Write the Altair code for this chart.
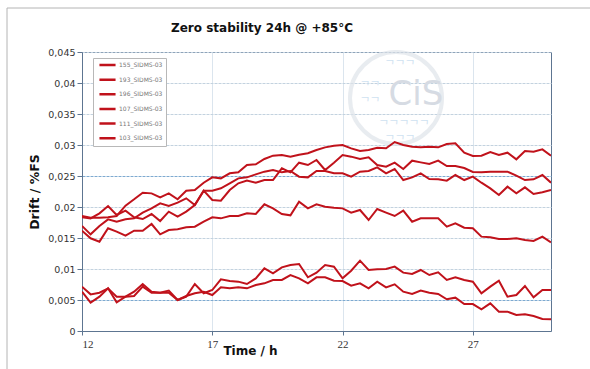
import altair as alt
import pandas as pd

hours = [12.0, 12.33, 12.67, 13.0, 13.33, 13.67, 14.0, 14.33, 14.67, 15.0, 15.33, 15.67,
         16.0, 16.33, 16.67, 17.0, 17.33, 17.67, 18.0, 18.33, 18.67, 19.0, 19.33, 19.67,
         20.0, 20.33, 20.67, 21.0, 21.33, 21.67, 22.0, 22.33, 22.67, 23.0, 23.33, 23.67,
         24.0, 24.33, 24.67, 25.0, 25.33, 25.67, 26.0, 26.33, 26.67, 27.0, 27.33, 27.67,
         28.0, 28.33, 28.67, 29.0, 29.33, 29.67, 30.0]

names = ["155_SIDMS-03", "193_SIDMS-03", "196_SIDMS-03", "107_SIDMS-03", "111_SIDMS-03", "103_SIDMS-03"]

s155 = [0.01855, 0.01828, 0.01828, 0.01833, 0.01855, 0.02022, 0.02124, 0.02231, 0.02220, 0.02156,
        0.02220, 0.02124, 0.02263, 0.02274, 0.02392, 0.02478, 0.02462, 0.02543, 0.02559, 0.02677,
        0.02688, 0.02774, 0.02828, 0.02839, 0.02812, 0.02844, 0.02866, 0.02919, 0.02962, 0.02989,
        0.03000, 0.02946, 0.02903, 0.02919, 0.02957, 0.02946, 0.03048, 0.03000, 0.02973, 0.02962,
        0.02973, 0.02962, 0.03016, 0.03027, 0.02876, 0.02823, 0.02828, 0.02887, 0.02839, 0.02876,
        0.02769, 0.02903, 0.02892, 0.02930, 0.02828]
s193 = [0.01833, 0.01817, 0.01898, 0.02016, 0.01871, 0.01941, 0.01833, 0.01806, 0.01887, 0.01774,
        0.01925, 0.01844, 0.01925, 0.02032, 0.02263, 0.02113, 0.02102, 0.02274, 0.02382, 0.02425,
        0.02392, 0.02435, 0.02435, 0.02624, 0.02559, 0.02715, 0.02677, 0.02758, 0.02597, 0.02715,
        0.02839, 0.02812, 0.02774, 0.02801, 0.02677, 0.02651, 0.02715, 0.02613, 0.02747, 0.02720,
        0.02694, 0.02747, 0.02661, 0.02661, 0.02629, 0.02565, 0.02559, 0.02570, 0.02570, 0.02570,
        0.02505, 0.02435, 0.02446, 0.02516, 0.02392]
s196 = [0.01694, 0.01559, 0.01694, 0.01801, 0.01763, 0.01801, 0.01817, 0.01909, 0.01978, 0.02059,
        0.02016, 0.02070, 0.02140, 0.02032, 0.02263, 0.02263, 0.02301, 0.02382, 0.02462, 0.02478,
        0.02527, 0.02570, 0.02597, 0.02559, 0.02581, 0.02489, 0.02478, 0.02581, 0.02581, 0.02543,
        0.02543, 0.02489, 0.02570, 0.02581, 0.02640, 0.02543, 0.02613, 0.02435, 0.02478, 0.02543,
        0.02452, 0.02446, 0.02425, 0.02516, 0.02435, 0.02489, 0.02392, 0.02301, 0.02194, 0.02328,
        0.02220, 0.02317, 0.02210, 0.02237, 0.02274]
s107 = [0.01618, 0.01495, 0.01441, 0.01656, 0.01602, 0.01538, 0.01618, 0.01618, 0.01726, 0.01559,
        0.01629, 0.01640, 0.01672, 0.01683, 0.01763, 0.01833, 0.01817, 0.01855, 0.01855, 0.01898,
        0.01887, 0.02043, 0.01978, 0.01887, 0.01866, 0.02086, 0.01978, 0.02043, 0.02005, 0.01989,
        0.01978, 0.01909, 0.01952, 0.01790, 0.01968, 0.01909, 0.01855, 0.01941, 0.01763, 0.01817,
        0.01817, 0.01817, 0.01683, 0.01737, 0.01667, 0.01656, 0.01522, 0.01511, 0.01484, 0.01484,
        0.01495, 0.01468, 0.01452, 0.01522, 0.01430]
s111 = [0.00634, 0.00457, 0.00554, 0.00688, 0.00462, 0.00554, 0.00634, 0.00758, 0.00634, 0.00618,
        0.00651, 0.00500, 0.00554, 0.00758, 0.00608, 0.00661, 0.00833, 0.00806, 0.00796, 0.00758,
        0.00849, 0.01011, 0.00930, 0.01027, 0.01065, 0.01081, 0.00866, 0.00941, 0.01065, 0.01038,
        0.00849, 0.00973, 0.01134, 0.00984, 0.00995, 0.01000, 0.01038, 0.00941, 0.00919, 0.00984,
        0.00903, 0.00946, 0.00823, 0.00866, 0.00823, 0.00796, 0.00608, 0.00715, 0.00812, 0.00554,
        0.00581, 0.00726, 0.00543, 0.00661, 0.00661]
s103 = [0.00715, 0.00591, 0.00618, 0.00688, 0.00554, 0.00554, 0.00565, 0.00715, 0.00618, 0.00618,
        0.00618, 0.00500, 0.00565, 0.00608, 0.00634, 0.00581, 0.00704, 0.00688, 0.00704, 0.00688,
        0.00742, 0.00769, 0.00823, 0.00823, 0.00903, 0.00849, 0.00769, 0.00866, 0.00866, 0.00812,
        0.00806, 0.00731, 0.00769, 0.00688, 0.00796, 0.00704, 0.00753, 0.00634, 0.00597, 0.00651,
        0.00618, 0.00597, 0.00511, 0.00538, 0.00435, 0.00435, 0.00349, 0.00446, 0.00312, 0.00312,
        0.00258, 0.00269, 0.00242, 0.00194, 0.00188]

x_ticks = [12, 17, 22, 27]
y_ticks = [0, 0.005, 0.01, 0.015, 0.02, 0.025, 0.03, 0.035, 0.04, 0.045]
title_text = "Zero stability 24h @ +85°C"

series = [s155, s193, s196, s107, s111, s103]
rows = []
for name, vals in zip(names, series):
    for t, v in zip(hours, vals):
        rows.append({"sensor": name, "time": t, "drift": v})
df = pd.DataFrame(rows)

RED = "#c0121b"
FRAME = "#5d7591"

lines = alt.Chart(df).mark_line(strokeWidth=2, clip=True).encode(
    x=alt.X("time:Q",
            scale=alt.Scale(domain=[12, 30], nice=False, zero=False),
            axis=alt.Axis(values=x_ticks, grid=True, gridColor="#dbe5ee", gridWidth=1,
                          labelFont="Liberation Serif", labelFontSize=11, labelColor="#333333",
                          tickSize=4, tickColor=FRAME, domainColor=FRAME, labelPadding=3,
                          title="Time / h", titleX=168, titleY=19, titleBaseline="middle",
                          titleAlign="center", titleFont="DejaVu Sans", titleFontSize=12,
                          titleFontWeight="bold", titleColor="#111111")),
    y=alt.Y("drift:Q",
            scale=alt.Scale(domain=[0, 0.045], nice=False),
            axis=alt.Axis(values=y_ticks,
                          labelExpr="replace(format(datum.value, '.3~f'), '.', ',')",
                          grid=True,
                          gridColor={"condition": {"test": "datum.value == 0.025 || datum.value == 0.005",
                                                   "value": "#7eaad0"},
                                     "value": "#c3d2df"},
                          gridDash=[3, 1], gridWidth=1,
                          labelFont="DejaVu Sans", labelFontSize=9.5, labelColor="#333333",
                          tickSize=5, tickColor=FRAME, domainColor=FRAME, labelPadding=2,
                          title="Drift / %FS", titleFont="DejaVu Sans", titleFontSize=12.5,
                          titleFontWeight="bold", titleColor="#111111", titlePadding=6)),
    color=alt.Color("sensor:N",
                    scale=alt.Scale(domain=names, range=[RED] * 6),
                    sort=names,
                    legend=alt.Legend(title=None, orient="none", legendX=11, legendY=6,
                                      symbolType="stroke", symbolStrokeWidth=2.5, symbolSize=260,
                                      symbolStrokeColor=RED,
                                      labelFont="DejaVu Sans", labelFontSize=6, labelColor="#777777",
                                      labelOffset=2, fillColor="white", strokeColor="#b8b8b8",
                                      padding=3, clipHeight=8, rowPadding=6.65, symbolOffset=2)),
)

dummy = pd.DataFrame({"a": [0]})
ring = alt.Chart(dummy).mark_point(shape="circle", filled=False, size=8464,
                                   stroke="#dfe4ea", strokeWidth=4).encode(
    x=alt.value(314), y=alt.value(46))
logo = alt.Chart(dummy).mark_text(text="CiS", font="DejaVu Sans", fontSize=34,
                                  color="#d6dbe3", align="center", baseline="middle").encode(
    x=alt.value(334), y=alt.value(43))
glyph_rows = pd.DataFrame({"g": ["ᄀᄀᄀ", "ᄀᄀ", "ᄀᄀ", "ᄀᄀᄀᄀᄀ", "ᄀᄀᄀ"],
                           "px": [318, 288, 288, 322, 318],
                           "py": [14, 35, 51, 74, 89]})
glyphs = alt.Chart(glyph_rows).mark_text(font="Noto Sans CJK KR", fontSize=11,
                                         color="#cfe2f1", align="center", baseline="middle").encode(
    text="g:N",
    x=alt.X("px:Q", scale=None),
    y=alt.Y("py:Q", scale=None))

frame_v = alt.Chart(dummy).mark_rule(color="#b4b4b4", strokeWidth=1).encode(
    x=alt.value(-75), y=alt.value(-44), y2=alt.value(320))
frame_h = alt.Chart(dummy).mark_rule(color="#b4b4b4", strokeWidth=1).encode(
    x=alt.value(-75), x2=alt.value(510), y=alt.value(-44))

title = alt.Chart(dummy).mark_text(text=title_text, font="DejaVu Sans", fontSize=12,
                                   fontWeight="bold", color="#111111", align="center",
                                   baseline="middle").encode(
    x=alt.value(180), y=alt.value(-24))

chart = alt.layer(frame_v, frame_h, ring, glyphs, logo, title, lines).properties(
    width=469, height=279,
    padding={"left": 82, "top": 52, "right": 39, "bottom": 38},
    autosize=alt.AutoSizeParams(type="none"),
    background="white",
).configure_view(stroke=FRAME, strokeWidth=1)

chart.save("out.html", embed_options={"renderer": "svg", "actions": False})
